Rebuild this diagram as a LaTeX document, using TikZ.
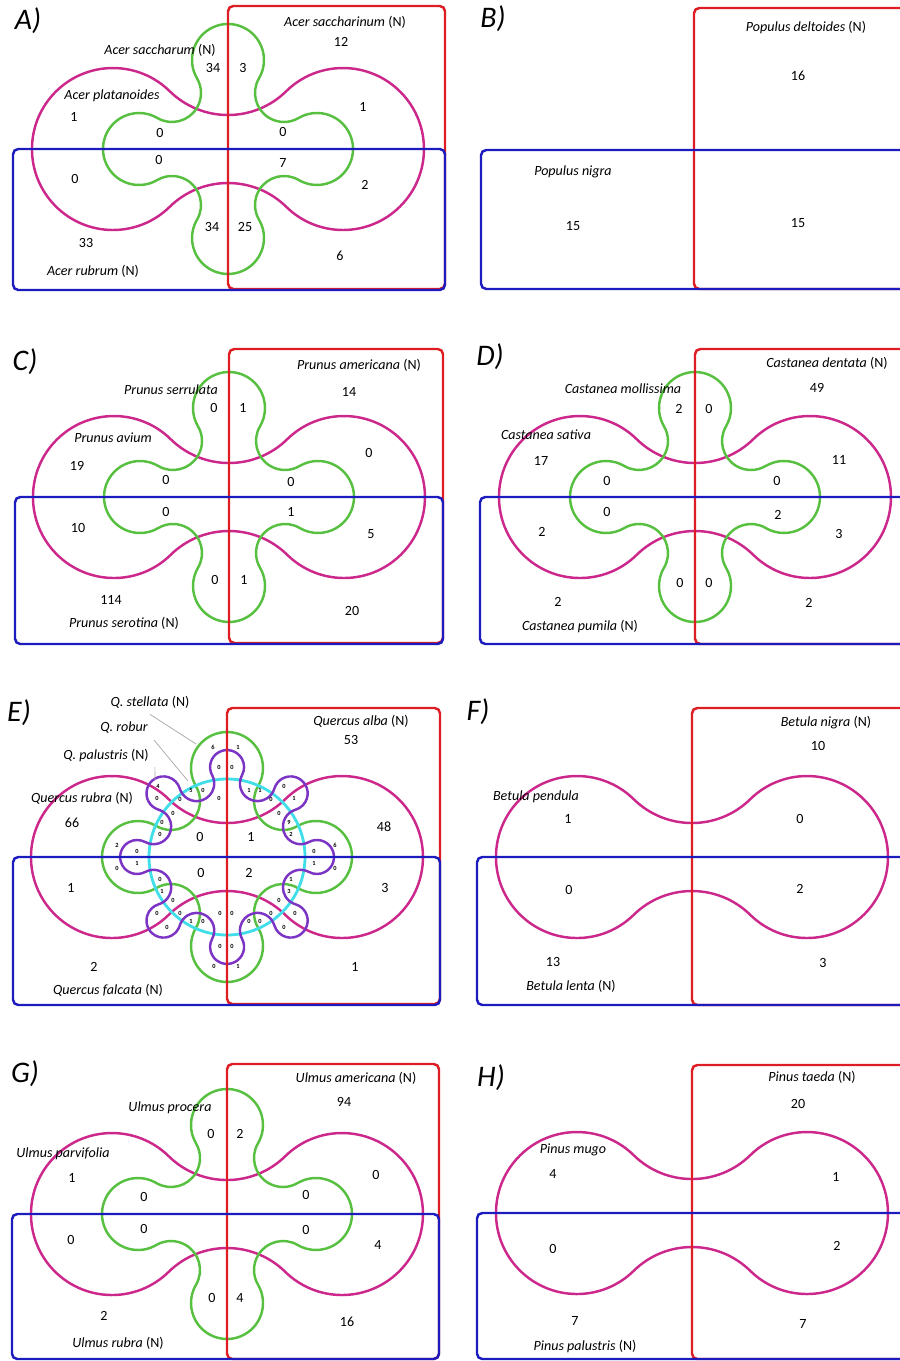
\documentclass[tikz,border=0pt]{standalone}
\usepackage{fontspec}
\setmainfont{Carlito}
\usetikzlibrary{positioning}

\definecolor{boxred}{RGB}{222,28,36}
\definecolor{boxblue}{RGB}{28,28,190}
\definecolor{lobemag}{RGB}{204,40,140}
\definecolor{lobegreen}{RGB}{88,192,64}
\definecolor{lobepurple}{RGB}{124,52,196}
\definecolor{ringcyan}{RGB}{64,222,232}

% magenta set: two lobes joined by a waist
\newcommand{\twolobe}[2]{\draw[magline, shift={(#1,#2)}] (58.24,-57.79)
  \foreach \a in {0,180} {arc[start angle=\a-134.46, end angle=\a+134.46, radius=81]
    arc[start angle=\a-45.54, end angle=\a-134.46, radius=83.2]} -- cycle;}
% green set: four lobes
\newcommand{\fourlobe}[2]{\draw[greenline, shift={(#1,#2)}] (70.73,-31.02)
  \foreach \a in {0,90,180,270} {arc[start angle=\a-120.5, end angle=\a+120.5, radius=36]
    arc[start angle=\a-59.5, end angle=\a-210.5, radius=29]} -- cycle;}

\begin{document}
\begin{tikzpicture}[x=0.02cm, y=-0.02cm,
    font=\fontsize{8}{10}\selectfont,
    redbox/.style={draw=boxred, line width=1.4pt, rounded corners=3pt},
    bluebox/.style={draw=boxblue, line width=1.4pt, rounded corners=3pt},
    magline/.style={draw=lobemag, line width=1.4pt},
    greenline/.style={draw=lobegreen, line width=1.4pt},
    purpline/.style={draw=lobepurple, line width=1.4pt},
    cyanline/.style={draw=ringcyan, line width=1.6pt},
    tag/.style={font=\fontsize{17}{20}\selectfont\itshape},
    tiny/.style={font=\fontsize{3.6}{4}\selectfont\bfseries, inner sep=0pt},
    leader/.style={draw=gray!70, line width=0.4pt}]
    \useasboundingbox (0,0) rectangle (899,1361);

    % A) Acer
    \twolobe{228}{149} \fourlobe{228}{149}
    \draw[redbox] (228,6) rectangle (445,289);
    \draw[bluebox] (13,149) rectangle (445,290);
    \node[tag] (tagA) at (28,21) {A)};
    \node (sacchA) at (345,22) {\textit{Acer saccharinum} (N)};
    \node (sugarA) at (160,50) {\textit{Acer saccharum} (N)};
    \node (platA) at (112,96) {\textit{Acer platanoides}};
    \node (rubA) at (93,271) {\textit{Acer rubrum} (N)};
    \foreach \x/\y/\n [count=\i] in {341/42/12, 213/68/34, 243/68/3, 74/117/1, 363/107/1,
        160/133/0, 283/132/0, 159/160/0, 283/163/7, 75/179/0, 365/185/2, 212/227/34,
        245/227/25, 86/243/33, 340/256/6}
        \node (a\i) at (\x,\y) {\n};

    % B) Populus
    \draw[redbox] (694,8) rectangle (915,289);
    \draw[bluebox] (481,150) rectangle (915,289);
    \node[tag] (tagB) at (493,19) {B)};
    \node (deltB) at (806,27) {\textit{Populus deltoides} (N)};
    \node (nigB) at (573,172) {\textit{Populus nigra}};
    \foreach \x/\y/\n [count=\i] in {798/76/16, 573/226/15, 798/223/15}
        \node (b\i) at (\x,\y) {\n};

    % C) Prunus
    \twolobe{229}{497} \fourlobe{229}{497}
    \draw[redbox] (229,349) rectangle (443,643);
    \draw[bluebox] (15,497) rectangle (443,644);
    \node[tag] (tagC) at (25,362) {C)};
    \node (amerC) at (359,365) {\textit{Prunus americana} (N)};
    \node (serrC) at (171,390) {\textit{Prunus serrulata}};
    \node (aviC) at (113,438) {\textit{Prunus avium}};
    \node (serC) at (124,623) {\textit{Prunus serotina} (N)};
    \foreach \x/\y/\n [count=\i] in {349/392/14, 214/408/0, 243/408/1, 77/466/19, 369/453/0,
        166/480/0, 291/482/0, 166/512/0, 291/512/1, 78/528/10, 371/534/5, 215/580/0,
        244/580/1, 111/600/114, 352/611/20}
        \node (c\i) at (\x,\y) {\n};

    % D) Castanea
    \twolobe{695}{497} \fourlobe{695}{497}
    \draw[redbox] (695,349) rectangle (915,644);
    \draw[bluebox] (480,497) rectangle (915,644);
    \node[tag] (tagD) at (490,357) {D)};
    \node (dentD) at (827,363) {\textit{Castanea dentata} (N)};
    \node (mollD) at (623,389) {\textit{Castanea mollissima}};
    \node (satD) at (546,435) {\textit{Castanea sativa}};
    \node (pumD) at (580,626) {\textit{Castanea pumila} (N)};
    \foreach \x/\y/\n [count=\i] in {817/388/49, 679/409/2, 709/409/0, 541/461/17, 839/460/11,
        607/481/0, 777/481/0, 607/512/0, 778/515/2, 542/532/2, 839/534/3, 680/583/0,
        709/583/0, 558/602/2, 809/603/2}
        \node (d\i) at (\x,\y) {\n};

    % E) Quercus
    \twolobe{227}{857} \fourlobe{227}{857}
    \draw[cyanline] (227,857) circle[radius=78];
    \draw[purpline, shift={(227,857)}] (81.92,-14.96)
        \foreach \a in {0,45,...,315} {arc[start angle=\a-118.4, end angle=\a+118.4, radius=17]
        arc[start angle=\a-61.6, end angle=\a-253.4, radius=17.6]} -- cycle;
    \draw[redbox] (227,708) rectangle (440,1004);
    \draw[bluebox] (13,857) rectangle (440,1005);
    \node[tag] (tagE) at (19,713) {E)};
    \node (albE) at (361,721) {\textit{Quercus alba} (N)};
    \node (rubE) at (82,798) {\textit{Quercus rubra} (N)};
    \node (falE) at (108,990) {\textit{Quercus falcata} (N)};
    \node (stelE) at (150,702) {\textit{Q. stellata} (N)};
    \node (robE) at (124,728) {\textit{Q. robur}};
    \node (palE) at (106,755) {\textit{Q. palustris} (N)};
    \coordinate (stelpt) at (196,744);
    \coordinate (robpt) at (188,781);
    \coordinate (palpt) at (155,780);
    \draw[leader] (stelE.south) -- (stelpt);
    \draw[leader] (robE.south east) -- (robpt);
    \draw[leader] (palE.south east) -- (palpt);
    \foreach \x/\y/\n [count=\i] in {351/740/53, 72/823/66, 384/827/48, 200/837/0, 251/837/1,
        201/873/0, 249/873/2, 71/888/1, 385/888/3, 94/967/2, 355/967/1}
        \node (e\i) at (\x,\y) {\n};
    \foreach \x/\y/\n [count=\i] in {213/747/6, 238/747/1, 219/767/0, 232/767/0, 158/786/4,
        191/790/5, 203/790/0, 219/798/0, 157/798/0, 180/799/0, 173/813/0, 162/822/0,
        160/834/0, 249/790/1, 260/790/1, 284/786/0, 271/799/0, 294/798/1, 279/813/0,
        289/822/9, 291/834/2, 335/845/6, 314/851/0, 314/863/1, 335/868/0, 117/845/2,
        137/851/0, 137/863/1, 117/868/0, 160/879/0, 162/891/1, 173/900/0, 157/913/0,
        180/913/0, 191/921/1, 203/921/0, 167/927/0, 220/913/0, 232/913/0, 291/879/1,
        289/891/3, 279/900/0, 295/913/0, 271/913/0, 249/921/0, 260/921/0, 284/927/0,
        220/946/0, 232/946/0, 214/966/0, 238/966/1}
        \node[tiny] (t\i) at (\x,\y) {\n};

    % F) Betula
    \twolobe{692}{857}
    \draw[redbox] (692,708) rectangle (915,1005);
    \draw[bluebox] (477,857) rectangle (915,1005);
    \node[tag] (tagF) at (478,712) {F)};
    \node (nigF) at (826,723) {\textit{Betula nigra} (N)};
    \node (penF) at (536,797) {\textit{Betula pendula}};
    \node (lenF) at (571,986) {\textit{Betula lenta} (N)};
    \foreach \x/\y/\n [count=\i] in {818/746/10, 568/819/1, 800/819/0, 569/890/0, 800/889/2,
        553/962/13, 823/963/3}
        \node (f\i) at (\x,\y) {\n};

    % G) Ulmus
    \twolobe{227}{1214} \fourlobe{227}{1214}
    \draw[redbox] (227,1064) rectangle (439,1359);
    \draw[bluebox] (12,1214) rectangle (439,1359);
    \node[tag] (tagG) at (25,1074) {G)};
    \node (amerG) at (356,1078) {\textit{Ulmus americana} (N)};
    \node (procG) at (170,1108) {\textit{Ulmus procera}};
    \node (parvG) at (63,1154) {\textit{Ulmus parvifolia}};
    \node (rubG) at (118,1343) {\textit{Ulmus rubra} (N)};
    \foreach \x/\y/\n [count=\i] in {344/1102/94, 211/1134/0, 240/1134/2, 72/1178/1, 376/1175/0,
        144/1197/0, 306/1195/0, 144/1229/0, 306/1230/0, 71/1240/0, 378/1245/4, 212/1298/0,
        240/1298/4, 104/1316/2, 347/1322/16}
        \node (g\i) at (\x,\y) {\n};

    % H) Pinus
    \twolobe{692}{1213}
    \draw[redbox] (692,1065) rectangle (915,1359);
    \draw[bluebox] (477,1213) rectangle (915,1359);
    \node[tag] (tagH) at (491,1078) {H)};
    \node (taeH) at (812,1077) {\textit{Pinus taeda} (N)};
    \node (mugH) at (573,1150) {\textit{Pinus mugo}};
    \node (palH) at (585,1346) {\textit{Pinus palustris} (N)};
    \foreach \x/\y/\n [count=\i] in {798/1104/20, 553/1174/4, 836/1177/1, 553/1249/0, 837/1246/2,
        575/1321/7, 803/1324/7}
        \node (h\i) at (\x,\y) {\n};
\end{tikzpicture}
\end{document}
